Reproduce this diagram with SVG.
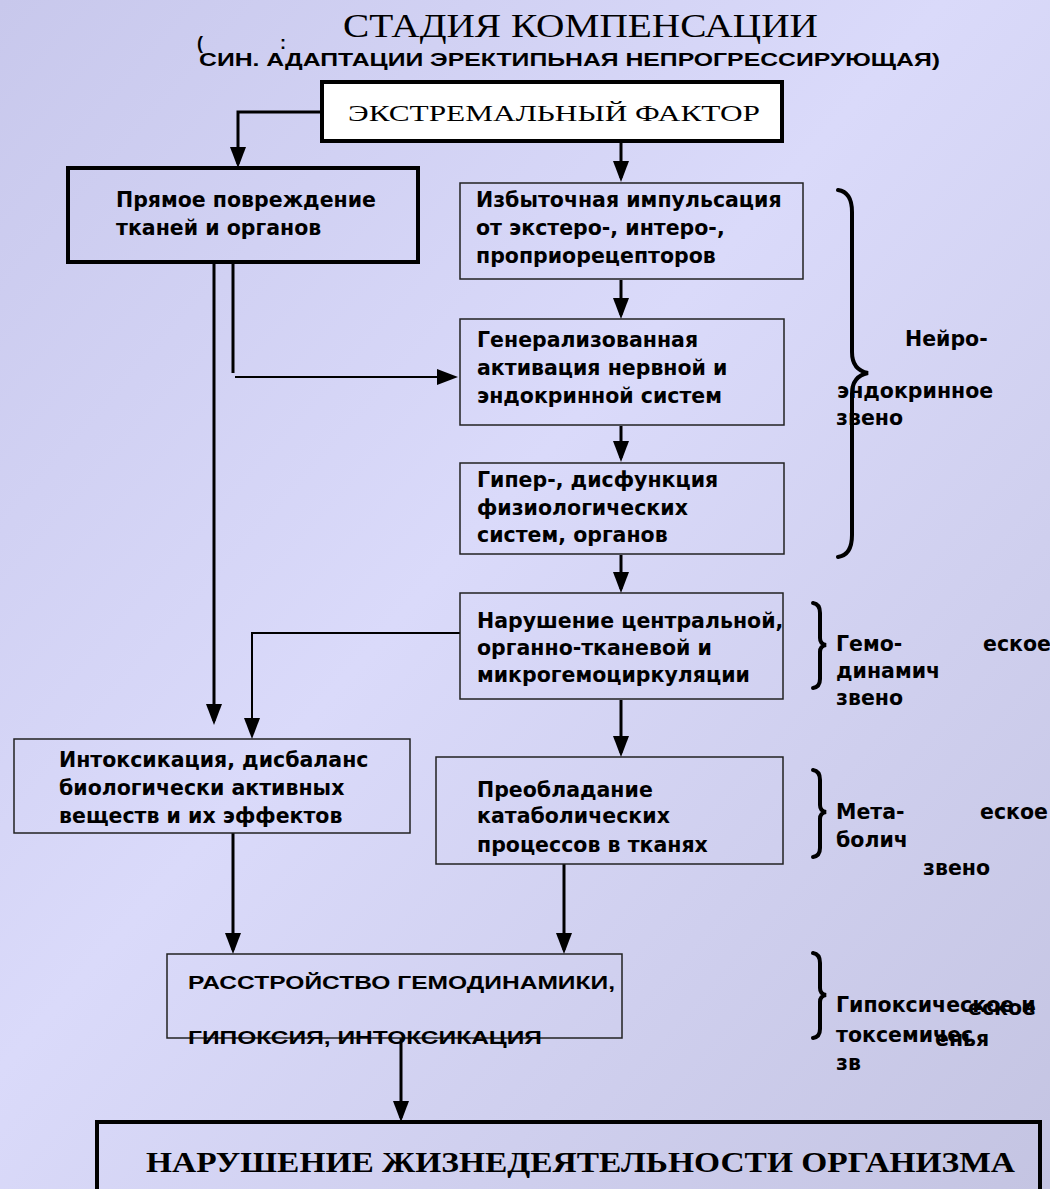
<svg xmlns="http://www.w3.org/2000/svg" width="1050" height="1189" viewBox="0 0 1050 1189">
<defs>
<linearGradient id="bg" x1="0" y1="0" x2="1" y2="1">
<stop offset="0" stop-color="#c8c8ec"/>
<stop offset="0.45" stop-color="#dadafa"/>
<stop offset="1" stop-color="#c4c4e2"/>
</linearGradient>
<marker id="ah" markerUnits="userSpaceOnUse" viewBox="0 0 21 16" markerWidth="21" markerHeight="16" refX="17" refY="8" orient="auto">
<path d="M0,0 L21,8 L0,16 z" fill="#000"/>
</marker>
<style>
.box{fill:none;stroke:#222;stroke-width:1.5}
.thick{fill:none;stroke:#000;stroke-width:4}
.t{font-family:"DejaVu Sans",Verdana,sans-serif;font-weight:bold;font-size:20.5px;fill:#000}
.serif{font-family:"Liberation Serif","Times New Roman",serif;fill:#000}
.sub{font-family:"Liberation Sans",Arial,sans-serif;font-weight:bold;font-size:18px;fill:#000}
.c{fill:none;stroke:#000;stroke-width:3}
.cn{fill:none;stroke:#000;stroke-width:2}
.br{fill:none;stroke:#000;stroke-width:4;stroke-linecap:round}
</style>
</defs>
<rect width="1050" height="1189" fill="url(#bg)"/>

<g id="title">
<text class="serif" x="343" y="37" font-size="34" textLength="475" lengthAdjust="spacingAndGlyphs">СТАДИЯ КОМПЕНСАЦИИ</text>
<text class="sub" x="197" y="49">(</text>
<text class="sub" x="280" y="49">:</text>
<text class="sub" x="199" y="66" textLength="741" lengthAdjust="spacingAndGlyphs">СИН. АДАПТАЦИИ ЭРЕКТИПЬНАЯ НЕПРОГРЕССИРУЮЩАЯ)</text>
</g>

<g id="connectors">
<path class="c" d="M322,112 H238 V164" marker-end="url(#ah)"/>
<path class="c" d="M621,141 V178" marker-end="url(#ah)"/>
<path class="c" d="M621,280 V315" marker-end="url(#ah)"/>
<path class="c" d="M621,426 V458" marker-end="url(#ah)"/>
<path class="c" d="M621,555 V589" marker-end="url(#ah)"/>
<path class="c" d="M621,700 V753" marker-end="url(#ah)"/>
<path class="c" d="M233,263 V373"/>
<path class="cn" d="M235,377 H454" marker-end="url(#ah)"/>
<path class="c" d="M214,263 V721" marker-end="url(#ah)"/>
<path class="cn" d="M460,633 H252 V735" marker-end="url(#ah)"/>
<path class="c" d="M233,833 V950" marker-end="url(#ah)"/>
<path class="c" d="M564,864 V950" marker-end="url(#ah)"/>
<path class="c" d="M401,1038 V1118" marker-end="url(#ah)"/>
</g>

<g id="n-extreme">
<rect x="322" y="82" width="460" height="59" fill="#fff" stroke="#000" stroke-width="4"/>
<text class="serif" x="348" y="121" font-size="24" textLength="412" lengthAdjust="spacingAndGlyphs">ЭКСТРЕМАЛЬНЫЙ  ФАКТОР</text>
</g>

<g id="n-direct">
<rect class="thick" x="68" y="168" width="350" height="94"/>
<text class="t" x="116" y="207">Прямое повреждение</text>
<text class="t" x="116" y="235">тканей и органов</text>
</g>

<g id="n-impulse">
<rect class="box" x="460" y="183" width="343" height="96"/>
<text class="t" x="476" y="207">Избыточная импульсация</text>
<text class="t" x="476" y="235">от экстеро-, интеро-,</text>
<text class="t" x="476" y="263">проприорецепторов</text>
</g>

<g id="n-activation">
<rect class="box" x="460" y="319" width="324" height="106"/>
<text class="t" x="477" y="347">Генерализованная</text>
<text class="t" x="477" y="375">активация нервной и</text>
<text class="t" x="477" y="403">эндокринной систем</text>
</g>

<g id="n-dysfunction">
<rect class="box" x="460" y="463" width="324" height="91"/>
<text class="t" x="477" y="487">Гипер-, дисфункция</text>
<text class="t" x="477" y="515">физиологических</text>
<text class="t" x="477" y="542">систем, органов</text>
</g>

<g id="n-circulation">
<rect class="box" x="460" y="593" width="323" height="106"/>
<text class="t" x="477" y="628">Нарушение центральной,</text>
<text class="t" x="477" y="655">органно-тканевой и</text>
<text class="t" x="477" y="682">микрогемоциркуляции</text>
</g>

<g id="n-catabolic">
<rect class="box" x="436" y="757" width="347" height="107"/>
<text class="t" x="477" y="797">Преобладание</text>
<text class="t" x="477" y="823">катаболических</text>
<text class="t" x="477" y="852">процессов в тканях</text>
</g>

<g id="n-intox">
<rect class="box" x="14" y="739" width="396" height="94"/>
<text class="t" x="59" y="767">Интоксикация, дисбаланс</text>
<text class="t" x="59" y="795">биологически активных</text>
<text class="t" x="59" y="823">веществ и их эффектов</text>
</g>

<g id="n-disorder">
<rect class="box" x="167" y="954" width="455" height="84"/>
<text class="sub" x="188" y="989" font-size="20" textLength="427" lengthAdjust="spacingAndGlyphs">РАССТРОЙСТВО ГЕМОДИНАМИКИ,</text>
<text class="sub" x="188" y="1044" font-size="20" textLength="354" lengthAdjust="spacingAndGlyphs">ГИПОКСИЯ, ИНТОКСИКАЦИЯ</text>
</g>

<g id="n-result">
<rect class="thick" x="97" y="1122" width="943" height="90"/>
<text class="serif" x="146" y="1172" font-size="29" font-weight="bold" textLength="869" lengthAdjust="spacingAndGlyphs">НАРУШЕНИЕ  ЖИЗНЕДЕЯТЕЛЬНОСТИ  ОРГАНИЗМА</text>
</g>

<g id="brace-neuro">
<path class="br" d="M838,190 Q852,192 852,212 V352 Q852,370 868,373 Q852,376 852,394 V535 Q852,555 838,557"/>
<text class="t" x="905" y="346">Нейро-</text>
<text class="t" x="837" y="398">эндокринное</text>
<text class="t" x="836" y="425">звено</text>
</g>

<g id="brace-hemo">
<path class="br" stroke-width="3" d="M813,603 Q820,604 820,613 V638 Q820,644 826,645 Q820,646 820,652 V679 Q820,687 813,688"/>
<text class="t" x="836" y="651">Гемо-</text>
<text class="t" x="983" y="651">еское</text>
<text class="t" x="836" y="678">динамич</text>
<text class="t" x="836" y="705">звено</text>
</g>

<g id="brace-meta">
<path class="br" stroke-width="3" d="M813,770 Q820,771 820,780 V805 Q820,811 826,812 Q820,813 820,819 V848 Q820,856 813,857"/>
<text class="t" x="836" y="819">Мета-</text>
<text class="t" x="980" y="819">еское</text>
<text class="t" x="836" y="847">болич</text>
<text class="t" x="923" y="875">звено</text>
</g>

<g id="brace-hypox">
<path class="br" stroke-width="3" d="M813,953 Q820,954 820,963 V988 Q820,994 826,995 Q820,996 820,1002 V1029 Q820,1037 813,1038"/>
<text class="t" x="836" y="1012">Гипоксическое и</text>
<text class="t" x="968" y="1015">еское</text>
<text class="t" x="836" y="1042">токсемичес</text>
<text class="t" x="935" y="1046">енья</text>
<text class="t" x="836" y="1070">зв</text>
</g>
</svg>
